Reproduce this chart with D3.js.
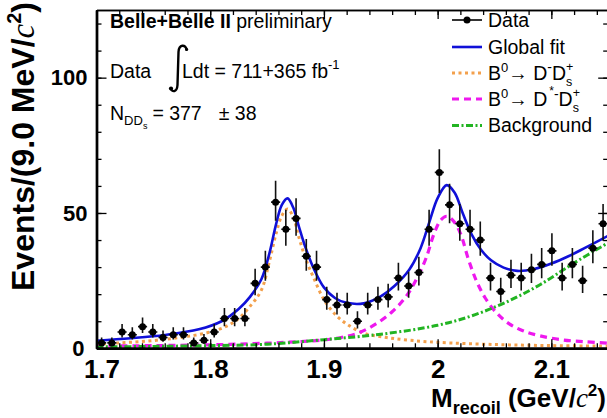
<!DOCTYPE html>
<html>
<head>
<meta charset="utf-8">
<script src="https://cdn.jsdelivr.net/npm/d3@7"></script>
<style>
  html, body { margin: 0; padding: 0; background: #fff; }
  svg { display: block; font-family: "Liberation Sans", Arial, Helvetica, sans-serif; }
</style>
</head>
<body>
<svg id="chart" width="607" height="418"></svg>
<script>
// ---- Recoil-mass histogram: 9 MeV bins starting at 1.70 GeV ----
const binStart = 1.70;
const binWidth = 0.009;
const counts = [2, 2, 6, 5, 8, 6, 4, 5, 5, 2, 3, 6, 11, 11, 11, 24, 30, 54, 44, 48,
                34, 30, 18, 16, 16, 10, 16, 18, 19, 26, 23, 28, 44, 65, 53, 46, 44, 40, 26, 21,
                27, 26, 29, 31, 36, 26, 31, 25, 37, 46];

// ---- Fit components, sampled along the recoil mass ----
const fitMass  = [1.700, 1.730, 1.760, 1.790, 1.810, 1.825, 1.835, 1.845, 1.852, 1.858, 1.863, 1.868,
                  1.873, 1.878, 1.884, 1.891, 1.900, 1.910, 1.920, 1.935, 1.950, 1.962, 1.975, 1.985,
                  1.993, 2.000, 2.008, 2.015, 2.022, 2.030, 2.038, 2.047, 2.058, 2.070, 2.085, 2.100,
                  2.115, 2.130, 2.150];
const fitTotal = [2.8, 3.7, 4.9, 7.0, 10.0, 14.5, 19.0, 25.5, 35.0, 46.0, 53.0, 55.4,
                  52.0, 45.0, 37.0, 29.5, 22.5, 18.5, 16.8, 16.6, 19.2, 23.0, 29.0, 37.0,
                  47.0, 55.5, 60.3, 57.5, 50.0, 42.0, 36.5, 32.5, 29.8, 28.6, 29.3, 31.3,
                  34.0, 37.2, 41.6];

const dMass = [1.700, 1.720, 1.740, 1.760, 1.780, 1.800, 1.815, 1.825, 1.835, 1.845, 1.852, 1.858,
               1.863, 1.868, 1.873, 1.878, 1.884, 1.891, 1.900, 1.910, 1.920, 1.935, 1.955, 1.975,
               2.000, 2.050, 2.100, 2.150];
const dYield = [1.6, 2.0, 2.5, 3.3, 4.4, 6.0, 8.3, 11.0, 15.5, 21.5, 32.0, 42.5,
                49.0, 51.5, 48.5, 41.0, 33.0, 26.0, 18.0, 12.5, 9.0, 5.6, 4.0, 3.0,
                2.2, 1.4, 1.0, 0.8];

const dstMass = [1.700, 1.750, 1.800, 1.850, 1.880, 1.900, 1.915, 1.930, 1.945, 1.960, 1.972, 1.982,
                 1.990, 1.997, 2.003, 2.008, 2.014, 2.020, 2.027, 2.034, 2.042, 2.052, 2.063, 2.075,
                 2.090, 2.110, 2.130, 2.150];
const dstYield = [0.8, 1.0, 1.3, 1.9, 2.5, 3.1, 4.0, 5.6, 8.8, 13.5, 19.0, 26.0,
                  33.5, 42.5, 47.5, 48.8, 47.0, 42.5, 33.0, 25.0, 18.5, 13.0, 9.0, 6.5,
                  4.6, 3.1, 2.4, 1.9];

const bkgMass  = [1.70, 1.75, 1.80, 1.85, 1.90, 1.95, 2.00, 2.03, 2.06, 2.09, 2.12, 2.15];
const bkgYield = [0.5, 0.7, 1.0, 1.5, 3.2, 5.2, 8.5, 12.0, 17.0, 23.5, 31.5, 39.0];

// ---- Axis ticks ----
const xMajorTicks = [1.7, 1.8, 1.9, 2.0, 2.1];
const xTickLabels = ["1.7", "1.8", "1.9", "2", "2.1"];
const xMinorTicks = [1.70, 1.72, 1.74, 1.76, 1.78, 1.80, 1.82, 1.84, 1.86, 1.88, 1.90, 1.92,
                     1.94, 1.96, 1.98, 2.00, 2.02, 2.04, 2.06, 2.08, 2.10, 2.12, 2.14];
const yMajorTicks = [0, 50, 100];
const yTickLabels = ["0", "50", "100"];
const yMinorTicks = [0, 10, 20, 30, 40, 50, 60, 70, 80, 90, 100, 110, 120];

// ---- Colours ----
const colFit = "#1010d8";
const colD   = "#f3a04c";
const colDst = "#ee18ee";
const colBkg = "#22b422";

// ---- Layout ----
const frame = { left: 96.5, right: 608.2, top: 10, bottom: 348.3 };
const x = d3.scaleLinear().domain([1.70, 2.15]).range([frame.left, frame.right]);
const y = d3.scaleLinear().domain([0, 125]).range([frame.bottom, frame.top]);

const svg = d3.select("#chart");

// Rich text helper: runs of text with their own size / offset.
// A part with "under" draws a subscript and superscript stacked at the same x.
function rich(parent, x0, y0, parts, base) {
  const g = parent.append("g");
  let cx = x0;
  for (const p of parts) {
    if (p.gap) { cx += p.gap; continue; }
    const t = g.append("text")
      .attr("x", cx)
      .attr("y", y0 + (p.dy || 0))
      .attr("font-size", p.size || base.size)
      .attr("font-weight", p.weight || base.weight || "normal")
      .attr("font-style", p.style || "normal")
      .attr("fill", "#000");
    if (p.family) t.attr("font-family", p.family);
    if (p.under) {
      const a = t.append("tspan").text(p.under.t);
      const wa = a.node().getComputedTextLength();
      const b = t.append("tspan").attr("x", cx).attr("dy", p.over.dy - p.under.dy).text(p.over.t);
      t.attr("y", y0 + p.under.dy);
      const wb = b.node().getComputedTextLength();
      cx += Math.max(wa, wb);
    } else {
      t.text(p.t);
      cx += t.node().getComputedTextLength();
    }
  }
  return { g, width: cx - x0 };
}

// ---- Clip region for the curves ----
svg.append("clipPath").attr("id", "plotClip")
  .append("rect")
  .attr("x", frame.left).attr("y", frame.top)
  .attr("width", frame.right - frame.left).attr("height", frame.bottom - frame.top);

const curveLine = d3.line()
  .x(d => x(d[0]))
  .y(d => y(d[1]))
  .curve(d3.curveCatmullRom.alpha(0.5));

const curves = svg.append("g").attr("clip-path", "url(#plotClip)");

function drawCurve(mass, vals, color, width, dash) {
  curves.append("path")
    .datum(d3.zip(mass, vals))
    .attr("d", curveLine)
    .attr("fill", "none")
    .attr("stroke", color)
    .attr("stroke-width", width)
    .attr("stroke-dasharray", dash);
}

drawCurve(dMass, dYield, colD, 3, "3,3.5");
drawCurve(dstMass, dstYield, colDst, 3.2, "7,5");
drawCurve(bkgMass, bkgYield, colBkg, 3, "7,2.5,2,2.5");
drawCurve(fitMass, fitTotal, colFit, 2.6, null);

// ---- Data points with Poisson-style error bars ----
const points = counts.map((n, i) => ({
  m: binStart + (i + 0.5) * binWidth,
  n: n,
  hi: n + Math.sqrt(n + 0.25) + 0.5,
  lo: Math.max(0, n - (Math.sqrt(n + 0.25) - 0.5))
}));

const pts = svg.append("g").attr("clip-path", "url(#plotClip)")
  .selectAll("g").data(points).join("g");

pts.append("line")
  .attr("x1", d => x(d.m)).attr("x2", d => x(d.m))
  .attr("y1", d => y(d.hi)).attr("y2", d => y(d.lo))
  .attr("stroke", "#111").attr("stroke-width", 1.6);
pts.append("line")
  .attr("x1", d => x(d.m - 0.0040)).attr("x2", d => x(d.m + 0.0040))
  .attr("y1", d => y(d.n)).attr("y2", d => y(d.n))
  .attr("stroke", "#111").attr("stroke-width", 1.6);
pts.append("circle")
  .attr("cx", d => x(d.m)).attr("cy", d => y(d.n))
  .attr("r", 3.5).attr("fill", "#000");

// ---- Axes (ticks point into the frame) ----
function styleAxis(g, width) {
  g.attr("font-family", null).attr("font-size", null);
  g.selectAll("line").attr("stroke", "#000").attr("stroke-width", 1.3);
  g.select(".domain").attr("stroke", "#000").attr("stroke-width", width);
}

// bottom
svg.append("g").attr("transform", `translate(0,${frame.bottom})`)
  .call(d3.axisBottom(x).tickValues(xMinorTicks).tickSize(-5).tickSizeOuter(0).tickFormat(""))
  .call(g => styleAxis(g, 2.6));
svg.append("g").attr("transform", `translate(0,${frame.bottom})`)
  .call(d3.axisBottom(x).tickValues(xMajorTicks).tickSize(-9).tickSizeOuter(0).tickPadding(11)
        .tickFormat((d, i) => xTickLabels[i]))
  .call(g => {
    styleAxis(g, 2.6);
    g.selectAll("text").attr("font-size", 26).attr("font-weight", "bold").attr("fill", "#000");
    g.selectAll(".tick").filter(d => d === 1.7).select("text").attr("transform", "translate(5,0)");
  });

// top
svg.append("g").attr("transform", `translate(0,${frame.top})`)
  .call(d3.axisTop(x).tickValues(xMinorTicks).tickSize(-5).tickSizeOuter(0).tickFormat(""))
  .call(g => styleAxis(g, 1.6));
svg.append("g").attr("transform", `translate(0,${frame.top})`)
  .call(d3.axisTop(x).tickValues(xMajorTicks).tickSize(-9).tickSizeOuter(0).tickFormat(""))
  .call(g => styleAxis(g, 1.6));

// left
svg.append("g").attr("transform", `translate(${frame.left},0)`)
  .call(d3.axisLeft(y).tickValues(yMinorTicks).tickSize(-5).tickSizeOuter(0).tickFormat(""))
  .call(g => styleAxis(g, 2.4));
svg.append("g").attr("transform", `translate(${frame.left},0)`)
  .call(d3.axisLeft(y).tickValues(yMajorTicks).tickSize(-10).tickSizeOuter(0).tickPadding(9)
        .tickFormat((d, i) => yTickLabels[i]))
  .call(g => {
    styleAxis(g, 2.4);
    g.selectAll("text").attr("font-size", 22).attr("font-weight", "bold").attr("fill", "#000");
    g.selectAll(".tick").filter(d => d === 0).select("text").attr("transform", "translate(-3,0)");
  });

// right
svg.append("g").attr("transform", `translate(${frame.right},0)`)
  .call(d3.axisRight(y).tickValues(yMinorTicks).tickSize(-5).tickSizeOuter(0).tickFormat(""))
  .call(g => styleAxis(g, 1.6));
svg.append("g").attr("transform", `translate(${frame.right},0)`)
  .call(d3.axisRight(y).tickValues(yMajorTicks).tickSize(-10).tickSizeOuter(0).tickFormat(""))
  .call(g => styleAxis(g, 1.6));

// ---- Axis titles ----
const serif = "'Liberation Serif', 'DejaVu Serif', serif";
const yTitle = svg.append("g");
const yt = rich(yTitle, 0, 0, [
  { t: "Events/(9.0 MeV/" },
  { t: "c", style: "italic", weight: "normal", family: serif, size: 33 },
  { t: "2", size: 20, dy: -13 },
  { t: ")" }
], { size: 32, weight: "bold" });
yTitle.attr("transform", `translate(34,${2 + yt.width}) rotate(-90)`);

const xTitle = svg.append("g");
const xt = rich(xTitle, 0, 0, [
  { t: "M" },
  { t: "recoil", size: 18, dy: 7 },
  { t: "\u00a0(GeV/" },
  { t: "c", style: "italic", weight: "normal", family: serif, size: 27 },
  { t: "2", size: 17, dy: -11 },
  { t: ")" }
], { size: 26, weight: "bold" });
xTitle.attr("transform", `translate(${606 - xt.width},407)`);

// ---- Annotations ----
const ann = svg.append("g");
rich(ann, 110, 28, [
  { t: "Belle+Belle II", weight: "bold" },
  { t: "\u00a0preliminary" }
], { size: 19.5 });

rich(ann, 110, 78, [{ t: "Data" }], { size: 19.5 });
// integral sign
ann.append("path")
  .attr("d", "M187,50 C185,44 179,44 178.5,52 L177.5,85 C177,92 172,93 170.5,88")
  .attr("fill", "none").attr("stroke", "#000").attr("stroke-width", 2.4);
ann.append("circle").attr("cx", 171).attr("cy", 88.5).attr("r", 2.1).attr("fill", "#000");
ann.append("circle").attr("cx", 186.6).attr("cy", 49.5).attr("r", 1.6).attr("fill", "#000");
rich(ann, 182, 78, [
  { t: "Ldt = 711+365 fb" },
  { t: "-1", size: 13, dy: -9 }
], { size: 19.5 });

rich(ann, 110, 120, [
  { t: "N" },
  { t: "DD", size: 13, dy: 5 },
  { t: "s", size: 9, dy: 9 },
  { gap: 5 },
  { t: "= 377" },
  { gap: 17 },
  { t: "\u00b1 38" }
], { size: 19.5 });

// ---- Legend ----
const leg = svg.append("g");
const legX0 = 452, legX1 = 482, legText = 488;
const rowBase = [27, 53.5, 79.5, 105.5, 132];
const dsScript = { size: 12.5, under: { t: "s", dy: 6 }, over: { t: "+", dy: -9 } };

// Data
leg.append("line").attr("x1", legX0).attr("x2", legX1).attr("y1", rowBase[0] - 7).attr("y2", rowBase[0] - 7)
  .attr("stroke", "#000").attr("stroke-width", 1.6);
leg.append("circle").attr("cx", (legX0 + legX1) / 2).attr("cy", rowBase[0] - 7).attr("r", 3.5).attr("fill", "#000");
rich(leg, legText, rowBase[0], [{ t: "Data" }], { size: 19.5 });

// Global fit
leg.append("line").attr("x1", legX0).attr("x2", legX1).attr("y1", rowBase[1] - 6.5).attr("y2", rowBase[1] - 6.5)
  .attr("stroke", colFit).attr("stroke-width", 2.6);
rich(leg, legText, rowBase[1], [{ t: "Global fit" }], { size: 19.5 });

// B0 -> D- Ds+
leg.append("line").attr("x1", legX0).attr("x2", legX1).attr("y1", rowBase[2] - 6.5).attr("y2", rowBase[2] - 6.5)
  .attr("stroke", colD).attr("stroke-width", 3).attr("stroke-dasharray", "3,3.5");
rich(leg, legText, rowBase[2], [
  { t: "B" }, { t: "0", size: 13, dy: -8 }, { t: "\u2192 D" }, { t: "-", size: 14, dy: -8 },
  { t: "D" }, dsScript
], { size: 19.5 });

// B0 -> D*- Ds+
leg.append("line").attr("x1", legX0).attr("x2", legX1).attr("y1", rowBase[3] - 6.5).attr("y2", rowBase[3] - 6.5)
  .attr("stroke", colDst).attr("stroke-width", 3.2).attr("stroke-dasharray", "7,5");
rich(leg, legText, rowBase[3], [
  { t: "B" }, { t: "0", size: 13, dy: -8 }, { t: "\u2192 D" }, { gap: 2 }, { t: "*", size: 12, dy: -11 },
  { t: "-", size: 14, dy: -7 },
  { t: "D" }, dsScript
], { size: 19.5 });

// Background
leg.append("line").attr("x1", legX0).attr("x2", legX1).attr("y1", rowBase[4] - 6.5).attr("y2", rowBase[4] - 6.5)
  .attr("stroke", colBkg).attr("stroke-width", 3).attr("stroke-dasharray", "7,2.5,2,2.5");
rich(leg, legText, rowBase[4], [{ t: "Background" }], { size: 19.5 });
</script>
</body>
</html>
